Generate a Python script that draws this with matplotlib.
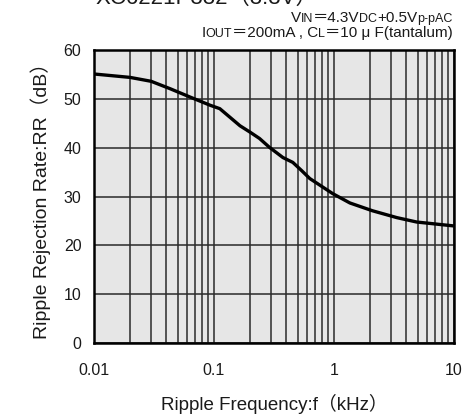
import numpy as np
import matplotlib
matplotlib.use("Agg")
import matplotlib.pyplot as plt
from matplotlib.ticker import FixedLocator, NullFormatter

plt.rcParams['font.family'] = ['Liberation Sans', 'Noto Sans CJK JP', 'DejaVu Sans']

# ripple rejection curve
freq_khz = [0.01, 0.02, 0.03, 0.043, 0.063, 0.093, 0.112, 0.165, 0.2, 0.24, 0.29,
            0.376, 0.455, 0.54, 0.63, 0.98, 1.36, 2.1, 3.35, 4.9, 10.0]
rr_db = [55.1, 54.4, 53.6, 52.1, 50.4, 48.7, 48.0, 44.5, 43.2, 41.9, 40.1,
         38.0, 37.0, 35.3, 33.7, 30.6, 28.7, 27.1, 25.7, 24.8, 24.0]

x_ticks = [0.01, 0.1, 1, 10]
x_tick_labels = ["0.01", "0.1", "1", "10"]
y_ticks = [0, 10, 20, 30, 40, 50, 60]

title = "XC6221P332（3.3V）"
cond1 = [("V", 11), ("IN", 9), ("＝4.3V", 11), ("DC", 9), ("+0.5V", 11), ("p-pAC", 9)]
cond2 = [("I", 11), ("OUT", 9), ("＝200mA , C", 11), ("L", 9), ("＝10 μ F(tantalum)", 11)]

fig = plt.figure(figsize=(4.65, 4.17), dpi=100)
ax = fig.add_axes([0.202, 0.177, 0.774, 0.703])
ax.set_facecolor("#e6e6e6")

ax.set_xscale("log")
ax.set_xlim(0.01, 10)
ax.set_ylim(0, 60)

minor = [m * 10.0 ** e for e in range(-2, 1) for m in range(2, 10)]
ax.xaxis.set_major_locator(FixedLocator(x_ticks))
ax.xaxis.set_minor_locator(FixedLocator(minor))
ax.xaxis.set_minor_formatter(NullFormatter())
ax.set_xticks(x_ticks)
ax.set_xticklabels(x_tick_labels)
ax.set_yticks(y_ticks)

ax.grid(True, which="both", axis="x", color="#2a2a2a", lw=1.1)
ax.grid(True, which="major", axis="y", color="#2a2a2a", lw=1.1)
ax.set_axisbelow(True)

ax.plot(freq_khz, rr_db, color="black", lw=2.4, solid_capstyle="butt")

for s in ax.spines.values():
    s.set_linewidth(1.8)
    s.set_color("black")

ax.tick_params(which="both", length=0, labelsize=11.5, colors="#1a1a1a", pad=9)
ax.tick_params(axis="x", pad=14)

ax.set_xlabel("Ripple Frequency:f（kHz）", fontsize=13.5, labelpad=12, color="#1a1a1a")
ax.set_ylabel("Ripple Rejection Rate:RR（dB）", fontsize=14, labelpad=9, color="#1a1a1a")

fig.text(95 / 465, 1 - 4 / 417, title, fontsize=16, ha="left", va="baseline", color="#1a1a1a")

renderer = fig.canvas.get_renderer()


def chain(parts, x_px, y):
    # right to left, every piece on the same baseline
    right = x_px
    for txt, size in reversed(parts):
        t = fig.text(right / 465, y, txt, fontsize=size, ha="right", va="baseline", color="#1a1a1a")
        right -= t.get_window_extent(renderer).width


chain(cond1, 453, 1 - 22 / 417)
chain(cond2, 453, 1 - 37 / 417)

fig.savefig("out.png", dpi=100)
